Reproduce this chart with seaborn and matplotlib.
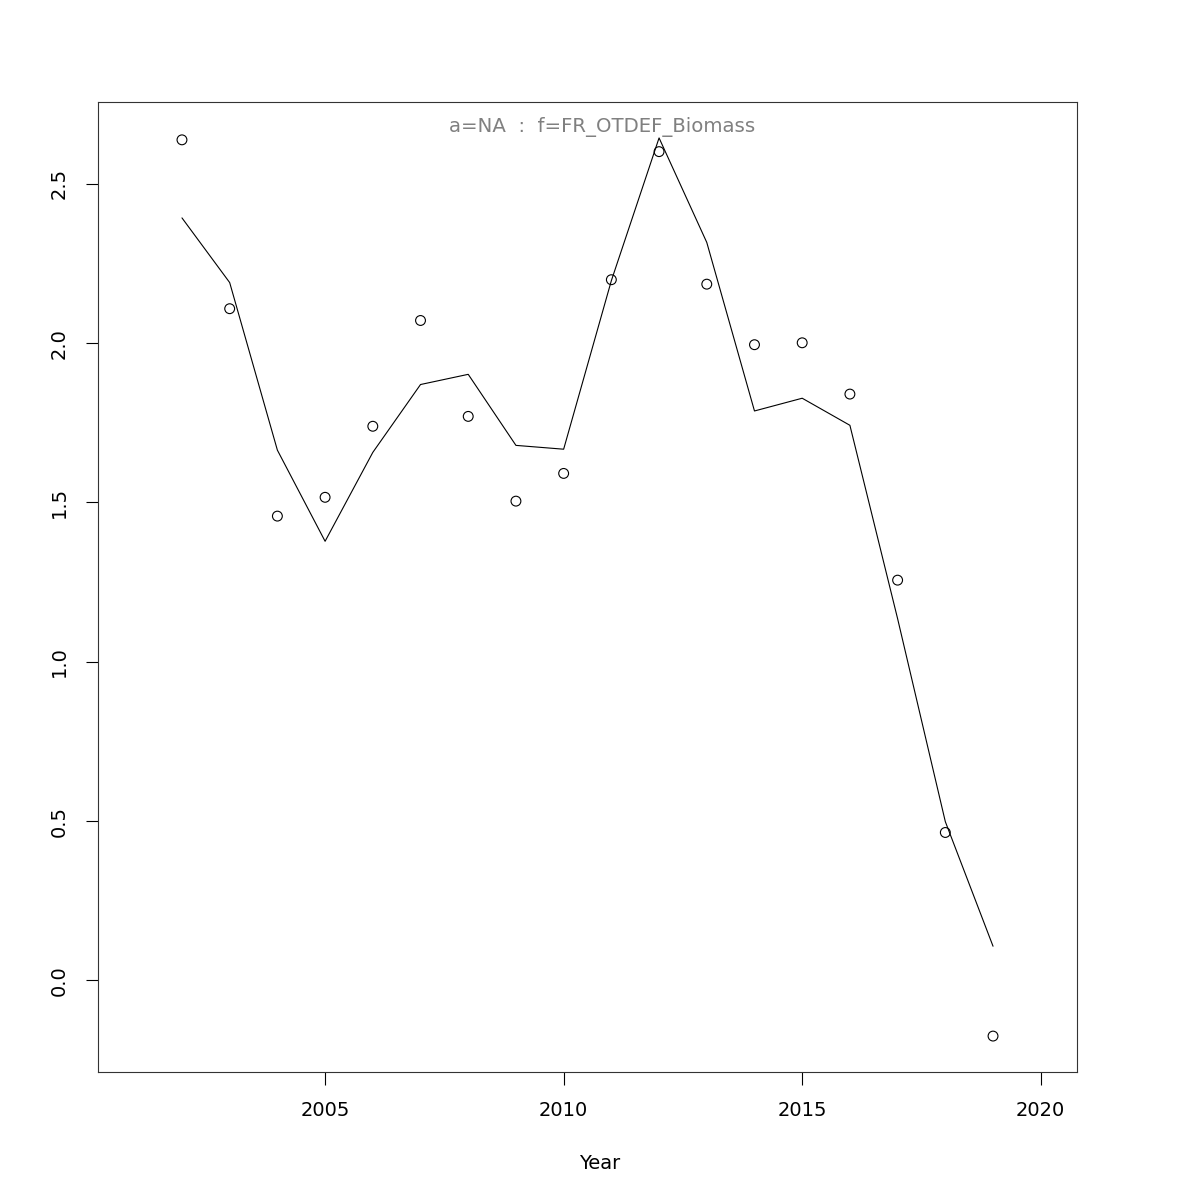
import numpy as np
import pandas as pd
import matplotlib
matplotlib.use("Agg")
import matplotlib.pyplot as plt
import seaborn as sns

# values
years = list(range(2002, 2020))
observed = [2.638, 2.108, 1.457, 1.516, 1.739, 2.071, 1.770, 1.504, 1.591,
            2.199, 2.601, 2.185, 1.995, 2.001, 1.840, 1.256, 0.464, -0.175]
fitted = [2.393, 2.190, 1.664, 1.378, 1.657, 1.870, 1.902, 1.679, 1.667,
          2.196, 2.644, 2.316, 1.787, 1.827, 1.742, 1.135, 0.498, 0.107]
x_ticks = [2005, 2010, 2015, 2020]
y_ticks = [0.0, 0.5, 1.0, 1.5, 2.0, 2.5]
y_tick_labels = ["0.0", "0.5", "1.0", "1.5", "2.0", "2.5"]
title_text = "a=NA  :  f=FR_OTDEF_Biomass"

df = pd.DataFrame({"Year": years, "observed": observed, "fitted": fitted})

sns.set_theme(style="ticks")
plt.rcParams["font.family"] = ["DejaVu Sans"]

fig = plt.figure(figsize=(12, 12), dpi=100)
ax = fig.add_axes([98 / 1200, 1 - 1072 / 1200, 979 / 1200, 970 / 1200])

# fitted line and observed points
sns.lineplot(data=df, x="Year", y="fitted", ax=ax, color="black", linewidth=0.8)
sns.scatterplot(data=df, x="Year", y="observed", ax=ax, marker="o", s=50,
                facecolor="none", edgecolor="black", linewidth=0.8)

# R style axis limits (4% padding)
ax.set_xlim(2001 - 0.76, 2020 + 0.76)
ax.set_ylim(-0.175 - 0.04 * 2.819, 2.644 + 0.04 * 2.819)

ax.set_xticks(x_ticks)
ax.set_xticklabels([str(t) for t in x_ticks])
ax.set_yticks(y_ticks)
ax.set_yticklabels(y_tick_labels, rotation=90, va="center")
ax.tick_params(axis="both", length=9, width=0.8, colors="black",
               labelsize=14, pad=12)

for sp in ax.spines.values():
    sp.set_visible(True)
    sp.set_linewidth(0.8)
    sp.set_color("#333333")

ax.set_ylabel("")
ax.set_xlabel("Year", fontsize=14, color="black")
ax.xaxis.set_label_coords((600 - 98) / 979, -0.085)

ax.text((602 - 98) / 979, 1 - (127 - 102) / 970, title_text, transform=ax.transAxes,
        ha="center", va="center", fontsize=14.2, color="#808080")

fig.savefig("out.png", dpi=100, facecolor="white")
